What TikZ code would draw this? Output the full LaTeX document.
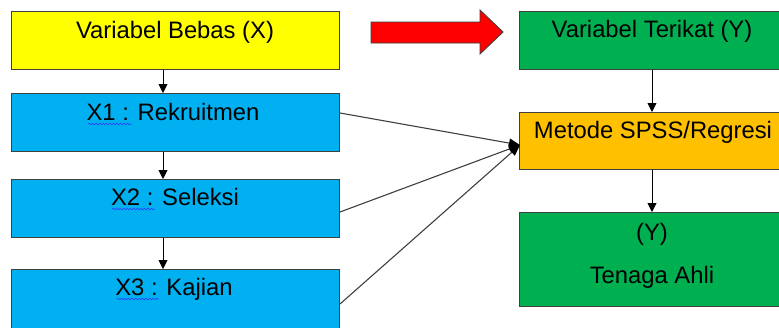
\documentclass[tikz,border=0pt]{standalone}
\usepackage{fontspec}
\setmainfont{Liberation Sans}
\usetikzlibrary{arrows.meta,decorations.pathmorphing}
\definecolor{cyel}{HTML}{FFFF00}
\definecolor{cblue}{HTML}{00B0F0}
\definecolor{cgreen}{HTML}{00B050}
\definecolor{corange}{HTML}{FFC000}
\definecolor{cred}{HTML}{FF0000}
\definecolor{cline}{HTML}{404040}
\begin{document}
\begin{tikzpicture}[x=1pt,y=-1pt,
  box/.style={draw=cline,line width=0.9pt,inner sep=0pt,anchor=north west},
  lbl/.style={anchor=base,inner sep=0pt,font=\fontsize{23.8}{28}\selectfont},
  arr/.style={draw=black,line width=0.9pt,-{Triangle[length=9pt,width=9pt]}},
  diag/.style={draw=cline,line width=1.1pt,-{Triangle[length=11pt,width=9pt,color=black]}},
  squig/.style={draw=blue!80!white,line width=0.5pt,decorate,decoration={snake,amplitude=0.8pt,segment length=3.5pt}}]
\useasboundingbox (0,0) rectangle (779,327);
\clip (0,0) rectangle (779,327);
\fill[white] (0,0) rectangle (779,327);
% left column
\node[box,fill=cyel,minimum width=328pt,minimum height=58pt] (yb) at (11,11) {};
\node[box,fill=cblue,minimum width=328pt,minimum height=58pt] (x1) at (11,93) {};
\node[box,fill=cblue,minimum width=328pt,minimum height=58pt] (x2) at (11,179) {};
\node[box,fill=cblue,minimum width=328pt,minimum height=80pt] (x3) at (11,269) {};
\node[lbl] (tyb) at (175,38) {Variabel Bebas (X)};
\node[lbl] (tx1) at (173,120) {X1 : Rekruitmen};
\node[lbl] (tx2) at (175,205) {X2 : Seleksi};
\node[lbl] (tx3) at (174,295) {X3 : Kajian};
\draw[squig] (88,124) -- (132,124);
\draw[squig] (112,209) -- (155,209);
\draw[squig] (117,299) -- (159,299);
% right column
\node[box,fill=cgreen,minimum width=266pt,minimum height=58pt] (vy) at (519,11) {};
\node[box,fill=corange,minimum width=266pt,minimum height=57pt] (or) at (519,112) {};
\node[box,fill=cgreen,minimum width=266pt,minimum height=94pt] (ta) at (519,212) {};
\node[lbl] (tvy) at (652,37) {Variabel Terikat (Y)};
\node[lbl] (tor) at (653,138) {Metode SPSS/Regresi};
\node[lbl] (tty) at (652,240) {(Y)};
\node[lbl] (tta) at (652,283) {Tenaga Ahli};
% red block arrow
\filldraw[fill=cred,draw=cline,line width=0.9pt] (371,22) -- (480,22) -- (480,10) -- (503,32) -- (480,54) -- (480,43) -- (371,43) -- cycle;
% vertical connectors
\coordinate (ax) at (163,0);
\coordinate (bx) at (652,0);
\draw[arr] (yb.south -| ax) -- (x1.north -| ax);
\draw[arr] (x1.south -| ax) -- (x2.north -| ax);
\draw[arr] (x2.south -| ax) -- (x3.north -| ax);
\draw[arr] (vy.south -| bx) -- (or.north -| bx);
\draw[arr] (or.south -| bx) -- (ta.north -| bx);
% diagonal connectors
\coordinate (tgt) at (520,145);
\coordinate (s1) at (340,113);
\coordinate (s2) at (340,212);
\coordinate (s3) at (340,304);
\draw[diag] (s1) -- (tgt);
\draw[diag] (s2) -- (tgt);
\draw[diag] (s3) -- (tgt);
\end{tikzpicture}
\end{document}
